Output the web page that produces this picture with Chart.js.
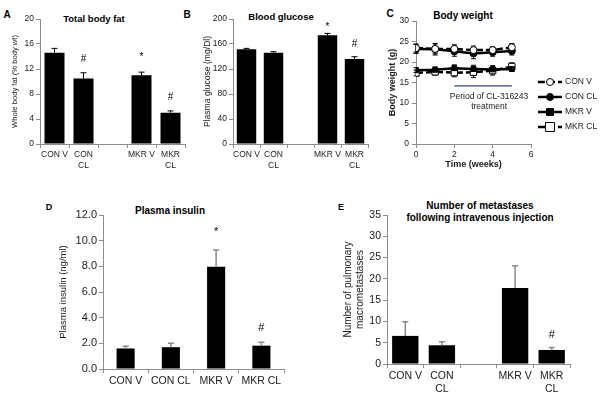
<!DOCTYPE html>
<html lang="en">
<head>
    <meta charset="UTF-8">
    <title>Figure</title>
    <script src="https://cdn.jsdelivr.net/npm/chart.js@4/dist/chart.umd.min.js"></script>
    <style>
        body { margin: 0; width: 600px; height: 406px; background: #fff; position: relative; overflow: hidden;
               font-family: "Liberation Sans", Arial, sans-serif; color: #000; }
        canvas { position: absolute; }
        .t { position: absolute; white-space: nowrap; transform: translate(-50%, -50%); line-height: 1.15; font-weight: bold; }
    </style>
</head>
<body>
    <div class="t" style="left:7px;top:15px;font-size:10px">A</div>
    <div class="t" style="left:94px;top:19px;font-size:9.5px">Total body fat</div>
    <div class="t" style="left:187px;top:15px;font-size:10px">B</div>
    <div class="t" style="left:281px;top:17px;font-size:9.5px">Blood glucose</div>
    <div class="t" style="left:390px;top:14px;font-size:10px">C</div>
    <div class="t" style="left:463px;top:16px;font-size:10px">Body weight</div>
    <div class="t" style="left:49px;top:207px;font-size:9px">D</div>
    <div class="t" style="left:170px;top:211px;font-size:10px">Plasma insulin</div>
    <div class="t" style="left:341px;top:207px;font-size:9px">E</div>
    <div class="t" style="left:480px;top:206px;font-size:10px">Number of metastases</div>
    <div class="t" style="left:480px;top:218px;font-size:10px">following intravenous injection</div>

    <canvas id="chartA" width="190" height="185" style="left:0;top:0"></canvas>
    <canvas id="chartB" width="200" height="185" style="left:190px;top:0"></canvas>
    <canvas id="chartC" width="214" height="185" style="left:386px;top:0"></canvas>
    <canvas id="chartD" width="300" height="206" style="left:0;top:200px"></canvas>
    <canvas id="chartE" width="300" height="206" style="left:300px;top:200px"></canvas>
    <script>
        // A / B / E share the grouped category layout (blank slot between groups)
        const groupLabels = ['CON V', ['CON', 'CL'], '', 'MKR V', ['MKR', 'CL']];

        const fatValues = [14.6, 10.5, null, 11.0, 5.0];
        const fatErrors = [0.7, 0.9, null, 0.5, 0.3];
        const fatMarks = ['', '#', '', '*', '#'];
        const fatMarkY = [null, 13.5, null, 14.2, 7.5];

        const glucoseValues = [151.5, 146, null, 174, 136];
        const glucoseErrors = [1.5, 1.7, null, 3, 3.7];
        const glucoseMarks = ['', '', '', '*', '#'];
        const glucoseMarkY = [null, null, null, 190, 159.5];

        const weeks = [0, 1, 2, 3, 4, 5];
        const conV = [23.4, 23.2, 23.2, 22.9, 22.9, 23.6];
        const conVErr = [1.0, 1.2, 1.0, 1.0, 0.8, 0.9];
        const conCL = [23.2, 23.1, 22.6, 22.1, 22.4, 22.7];
        const conCLErr = [1.1, 1.4, 1.2, 1.3, 1.0, 1.0];
        const mkrV = [18.0, 18.1, 18.5, 18.3, 18.2, 18.3];
        const mkrVErr = [0.6, 0.7, 0.8, 0.9, 0.9, 0.6];
        const mkrCL = [17.3, 17.6, 17.4, 17.5, 17.9, 18.9];
        const mkrCLErr = [0.7, 0.8, 1.0, 1.3, 1.1, 0.9];
        const periodX = [2, 5];
        const periodY = 14.2;
        const periodText = ['Period of CL-316243', 'treatment'];

        const insulinLabels = ['CON V', 'CON CL', 'MKR V', 'MKR CL'];
        const insulinValues = [1.6, 1.7, 7.97, 1.82];
        const insulinErrors = [0.18, 0.3, 1.3, 0.26];
        const insulinMarks = ['', '', '*', '#'];
        const insulinMarkY = [null, null, 10.9, 3.2];

        const metValues = [6.6, 4.4, null, 17.85, 3.3];
        const metErrors = [3.3, 0.8, null, 5.25, 0.6];
        const metMarks = ['', '', '', '', '#'];
        const metMarkY = [null, null, null, null, 6.8];

        const FONT = '"Liberation Sans", Arial, sans-serif';
        const AXIS = '#8c8c8c';
        const TEXT = '#1a1a1a';

        // error bars (upward only for bars, both ways for the line chart)
        const errorBars = {
            id: 'errorBars',
            draw(chart) {
                const ctx = chart.ctx;
                chart.data.datasets.forEach((ds, i) => {
                    if (!ds.errors) return;
                    const meta = chart.getDatasetMeta(i);
                    const ys = chart.scales[meta.yAxisID];
                    ctx.save();
                    ctx.strokeStyle = ds.errorColor || '#000';
                    ctx.lineWidth = ds.errorWidth || 1;
                    meta.data.forEach((el, j) => {
                        const v = ds.data[j], e = ds.errors[j];
                        if (v == null || e == null) return;
                        const val = typeof v === 'object' ? v.y : v;
                        const top = ys.getPixelForValue(val + e);
                        const bot = ds.bothWays ? ys.getPixelForValue(val - e) : el.y;
                        const cap = ds.capWidth || 3;
                        ctx.beginPath();
                        ctx.moveTo(el.x, bot); ctx.lineTo(el.x, top);
                        ctx.moveTo(el.x - cap, top); ctx.lineTo(el.x + cap, top);
                        if (ds.bothWays) { ctx.moveTo(el.x - cap, bot); ctx.lineTo(el.x + cap, bot); }
                        ctx.stroke();
                    });
                    ctx.restore();
                });
            },
            beforeDatasetsDraw(chart) { if (chart.config.type === 'line') this.draw(chart); },
            afterDatasetsDraw(chart) { if (chart.config.type !== 'line') this.draw(chart); }
        };

        // significance marks (* and #) over the bars
        const sigMarks = {
            id: 'sigMarks',
            afterDatasetsDraw(chart) {
                const ctx = chart.ctx;
                chart.data.datasets.forEach((ds, i) => {
                    if (!ds.marks) return;
                    const meta = chart.getDatasetMeta(i);
                    const ys = chart.scales[meta.yAxisID];
                    const size = ds.markSize || 10;
                    ctx.save();
                    ctx.fillStyle = '#000';
                    ctx.font = size + 'px ' + FONT;
                    ctx.textAlign = 'center';
                    ctx.textBaseline = 'middle';
                    ds.marks.forEach((m, j) => {
                        if (!m) return;
                        let y = ys.getPixelForValue(ds.markY[j]);
                        if (m === '*') y += 0.23 * size;
                        ctx.fillText(m, meta.data[j].x, y);
                    });
                    ctx.restore();
                });
            }
        };

        // legend to the right of panel C, line + marker + text
        const sideLegend = {
            id: 'sideLegend',
            afterDraw(chart) {
                const ctx = chart.ctx, a = chart.chartArea;
                const items = chart.data.datasets.filter(d => d.label);
                ctx.save();
                items.forEach((ds, i) => {
                    const y = a.top + 61 + i * 15;
                    const x0 = a.right + 7, x1 = x0 + 24, xm = (x0 + x1) / 2;
                    ctx.strokeStyle = '#000';
                    ctx.lineWidth = ds.borderWidth;
                    ctx.setLineDash(ds.borderDash || []);
                    ctx.beginPath(); ctx.moveTo(x0, y); ctx.lineTo(x1, y); ctx.stroke();
                    ctx.setLineDash([]);
                    ctx.lineWidth = 1;
                    ctx.fillStyle = ds.pointBackgroundColor;
                    const r = ds.pointRadius;
                    ctx.beginPath();
                    if (ds.pointStyle === 'rect') ctx.rect(xm - r, y - r, 2 * r, 2 * r);
                    else ctx.arc(xm, y, r, 0, Math.PI * 2);
                    ctx.fill(); ctx.stroke();
                    ctx.fillStyle = TEXT;
                    ctx.font = '8.5px ' + FONT;
                    ctx.textAlign = 'left';
                    ctx.textBaseline = 'middle';
                    ctx.fillText(ds.label, x1 + 3, y);
                });
                // treatment period caption
                const xs = chart.scales.x, ys = chart.scales.y;
                ctx.fillStyle = TEXT;
                ctx.font = '8.5px ' + FONT;
                ctx.textAlign = 'center';
                ctx.textBaseline = 'middle';
                const cx = xs.getPixelForValue((periodX[0] + periodX[1]) / 2) + 6;
                const py = ys.getPixelForValue(periodY);
                ctx.fillText(periodText[0], cx, py + 11);
                ctx.fillText(periodText[1], cx, py + 21);
                ctx.restore();
            }
        };

        function barChart(id, o) {
            return new Chart(id, {
                type: 'bar',
                data: {
                    labels: o.labels,
                    datasets: [{
                        data: o.values,
                        errors: o.errors,
                        errorColor: o.errorColor,
                        errorWidth: o.errorWidth,
                        capWidth: o.capWidth,
                        marks: o.marks,
                        markY: o.markY,
                        markSize: o.markSize,
                        backgroundColor: '#000',
                        categoryPercentage: 1,
                        barPercentage: o.barPct
                    }]
                },
                options: {
                    responsive: false,
                    animation: false,
                    devicePixelRatio: 1,
                    layout: { padding: o.padding },
                    plugins: { legend: { display: false }, tooltip: { enabled: false } },
                    scales: {
                        x: {
                            grid: { drawOnChartArea: false, tickLength: 4, color: AXIS, offset: true },
                            border: { color: AXIS },
                            ticks: { font: { family: FONT, size: o.xFont }, color: TEXT, maxRotation: 0, autoSkip: false, padding: 2 },
                            afterFit: s => { s.height = o.xHeight; }
                        },
                        y: {
                            min: 0, max: o.max,
                            grid: { drawOnChartArea: false, tickLength: 4, color: AXIS },
                            border: { color: AXIS },
                            ticks: { stepSize: o.step, font: { family: FONT, size: o.yFont }, color: TEXT, padding: 2,
                                     callback: o.fmt || (v => v) },
                            title: { display: true, text: o.yTitle, color: TEXT, font: { family: FONT, size: o.titleFont },
                                     padding: { top: 2, bottom: 0 } },
                            afterFit: s => { s.width = o.yWidth; }
                        }
                    }
                },
                plugins: [errorBars, sigMarks]
            });
        }

        barChart('chartA', {
            labels: groupLabels, values: fatValues, errors: fatErrors, marks: fatMarks, markY: fatMarkY,
            max: 20, step: 4, yTitle: 'Whole body fat (% body wt)', barPct: 0.69,
            padding: { left: 8, top: 19, right: 5, bottom: 0 }, yWidth: 32, xHeight: 41,
            xFont: 8.5, yFont: 8.5, titleFont: 7.6, markSize: 10, capWidth: 3
        });

        barChart('chartB', {
            labels: groupLabels, values: glucoseValues, errors: glucoseErrors, marks: glucoseMarks, markY: glucoseMarkY,
            max: 200, step: 40, yTitle: 'Plasma glucose (mg/Dl)', barPct: 0.72,
            padding: { left: 10, top: 19, right: 22, bottom: 0 }, yWidth: 33, xHeight: 41,
            xFont: 8.5, yFont: 8.5, titleFont: 8.6, markSize: 10, capWidth: 3
        });

        barChart('chartD', {
            labels: insulinLabels, values: insulinValues, errors: insulinErrors, marks: insulinMarks, markY: insulinMarkY,
            max: 12, step: 2, yTitle: 'Plasma insulin (ng/ml)', barPct: 0.4, fmt: v => v.toFixed(1),
            padding: { left: 56, top: 15, right: 16, bottom: 0 }, yWidth: 47, xHeight: 37,
            xFont: 10.5, yFont: 11, titleFont: 9.5, markSize: 11, capWidth: 3,
            errorColor: '#8a8a8a', errorWidth: 1.5
        });

        barChart('chartE', {
            labels: groupLabels, values: metValues, errors: metErrors, marks: metMarks, markY: metMarkY,
            max: 35, step: 5, yTitle: ['Number of pulmonary', 'macrometastases'], barPct: 0.72,
            padding: { left: 40, top: 15, right: 30, bottom: 0 }, yWidth: 47, xHeight: 42,
            xFont: 10.5, yFont: 10.5, titleFont: 10, markSize: 11, capWidth: 3,
            errorColor: '#8a8a8a', errorWidth: 1.5
        });

        function series(label, ys, errs, style, filled, dashed) {
            return {
                label: label,
                data: weeks.map((w, i) => ({ x: w, y: ys[i] })),
                errors: errs,
                bothWays: true,
                capWidth: 2.5,
                borderColor: '#000',
                borderWidth: 2.5,
                borderDash: dashed ? [7, 3] : [],
                pointStyle: style,
                pointRadius: style === 'rect' ? (filled ? 3.5 : 4.5) : 3.5,
                pointBorderWidth: 1,
                pointBorderColor: '#000',
                pointBackgroundColor: filled ? '#000' : '#fff',
                tension: 0
            };
        }

        new Chart('chartC', {
            type: 'line',
            data: {
                datasets: [
                    series('CON V', conV, conVErr, 'circle', false, true),
                    series('CON CL', conCL, conCLErr, 'circle', true, false),
                    series('MKR V', mkrV, mkrVErr, 'rect', true, false),
                    series('MKR CL', mkrCL, mkrCLErr, 'rect', false, true),
                    {
                        data: periodX.map(x => ({ x: x, y: periodY })),
                        borderColor: '#2c4a78', borderWidth: 1.2, pointRadius: 0
                    }
                ]
            },
            options: {
                responsive: false,
                animation: false,
                devicePixelRatio: 1,
                layout: { padding: { left: 0, top: 21, right: 69, bottom: 0 } },
                plugins: { legend: { display: false }, tooltip: { enabled: false } },
                scales: {
                    x: {
                        type: 'linear', min: 0, max: 6,
                        grid: { drawOnChartArea: false, tickLength: 4, color: AXIS },
                        border: { color: AXIS },
                        ticks: { stepSize: 2, font: { family: FONT, size: 8.5 }, color: TEXT, padding: 2 },
                        title: { display: true, text: 'Time (weeks)', color: TEXT, font: { family: FONT, size: 9, weight: 'bold' },
                                 padding: { top: 2, bottom: 15 } },
                        afterFit: s => { s.height = 41; }
                    },
                    y: {
                        min: 0, max: 30,
                        grid: { drawOnChartArea: false, tickLength: 4, color: AXIS },
                        border: { color: AXIS },
                        ticks: { stepSize: 5, font: { family: FONT, size: 8.5 }, color: TEXT, padding: 3 },
                        title: { display: true, text: 'Body weight (g)', color: TEXT, font: { family: FONT, size: 9, weight: 'bold' },
                                 padding: { top: 1, bottom: 0 } },
                        afterFit: s => { s.width = 30; }
                    }
                }
            },
            plugins: [errorBars, sideLegend]
        });
    </script>
</body>
</html>
